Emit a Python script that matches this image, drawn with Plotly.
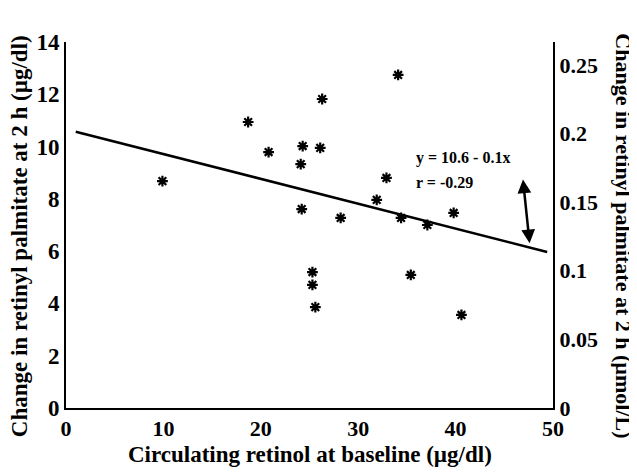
import plotly.graph_objects as go

# baseline retinol (ug/dl) vs change in retinyl palmitate at 2 h (ug/dl)
retinol = [9.9, 18.7, 20.8, 24.3, 24.1, 24.2, 26.3, 26.1, 34.1, 32.9,
           31.9, 28.2, 34.4, 37.1, 39.8, 25.3, 25.3, 25.6, 35.4, 40.6]
change = [8.68, 10.94, 9.79, 10.02, 9.33, 7.61, 11.82, 9.95, 12.74, 8.80,
          7.96, 7.27, 7.27, 7.00, 7.46, 5.20, 4.71, 3.86, 5.09, 3.56]

fit_x = [1.0, 49.4]
fit_y = [10.57, 5.97]

x_ticks = [0, 10, 20, 30, 40, 50]
y_ticks = [0, 2, 4, 6, 8, 10, 12, 14]
y2_ticks = [0, 0.05, 0.1, 0.15, 0.2, 0.25]
y2_labels = ["0", "0.05", "0.1", "0.15", "0.2", "0.25"]

UGDL_TO_UMOLL = 0.01905  # retinyl palmitate

FONT = "Liberation Serif"


def bold(size):
    return dict(family=FONT, size=size, color="black", weight="bold")


fig = go.Figure()
fig.add_trace(go.Scatter(
    x=fit_x, y=fit_y, mode="lines",
    line=dict(color="black", width=2.5),
    showlegend=False,
))
fig.add_trace(go.Scatter(
    x=retinol, y=change, mode="markers",
    marker=dict(symbol="asterisk-open", size=9, color="black",
                line=dict(color="black", width=2.2)),
    showlegend=False,
))
# invisible trace to bring the right axis up
fig.add_trace(go.Scatter(
    x=[None], y=[None], yaxis="y2", showlegend=False,
))

# double arrow pointing from left scale to right scale
fig.add_annotation(
    x=47.6, y=6.3, ax=46.9, ay=8.8, xref="x", yref="y", axref="x", ayref="y",
    text="", showarrow=True, arrowhead=2, startarrowhead=2,
    arrowside="end+start", arrowsize=1.1, arrowwidth=2.5, arrowcolor="black",
)
fig.add_annotation(
    x=0.715, y=0.683, xref="paper", yref="paper",
    xanchor="left", yanchor="middle",
    text="y = 10.6 - 0.1x", showarrow=False, font=bold(16),
)
fig.add_annotation(
    x=0.715, y=0.617, xref="paper", yref="paper",
    xanchor="left", yanchor="middle",
    text="r = -0.29", showarrow=False, font=bold(16),
)

# axis titles
fig.add_annotation(
    x=0.5, y=-0.128, xref="paper", yref="paper",
    xanchor="center", yanchor="middle",
    text="Circulating retinol at baseline (µg/dl)",
    showarrow=False, font=bold(23),
)
fig.add_annotation(
    x=-0.094, y=0.47, xref="paper", yref="paper",
    xanchor="center", yanchor="middle",
    text="Change in retinyl palmitate at 2 h (µg/dl)", textangle=-90,
    showarrow=False, font=bold(23),
)
fig.add_annotation(
    x=1.143, y=0.47, xref="paper", yref="paper",
    xanchor="center", yanchor="middle",
    text="Change in retinyl palmitate at 2 h (µmol/L)", textangle=90,
    showarrow=False, font=bold(22),
)

# the page body adds an 8px offset, so margins are shifted to compensate
fig.update_layout(
    width=637, height=476,
    margin=dict(l=58, r=92, t=34, b=76),
    paper_bgcolor="white", plot_bgcolor="white",
    font=bold(20),
    xaxis=dict(
        range=[0, 50], tickvals=x_ticks, showgrid=False, zeroline=False,
        showline=True, linecolor="black", linewidth=2, ticks="",
        tickfont=bold(22), automargin=False,
    ),
    yaxis=dict(
        range=[0, 14], tickvals=y_ticks, showgrid=False, zeroline=False,
        showline=True, linecolor="black", linewidth=2, ticks="",
        tickfont=bold(23), automargin=False,
    ),
    yaxis2=dict(
        range=[0, 14 * UGDL_TO_UMOLL], overlaying="y", side="right",
        tickvals=y2_ticks, ticktext=y2_labels, showgrid=False,
        zeroline=False, showline=True, linecolor="black", linewidth=2,
        ticks="", tickfont=bold(22), automargin=False,
    ),
)

fig.write_html("out.html")
